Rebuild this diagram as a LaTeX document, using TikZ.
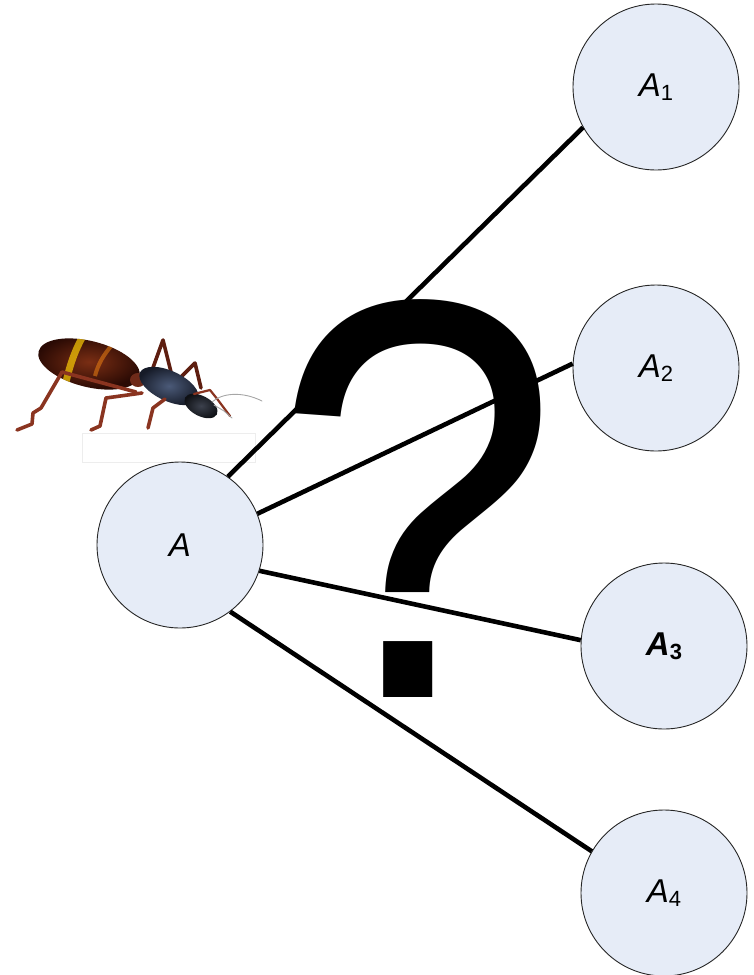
\documentclass[tikz,border=0pt]{standalone}
\usepackage{fontspec}
\setmainfont{Liberation Sans}
\definecolor{nodefill}{HTML}{E6ECF7}
\definecolor{legbrown}{HTML}{8A3420}
\definecolor{legdark}{HTML}{5E1E10}
\definecolor{gasterlight}{HTML}{7A2E14}
\definecolor{gasterdark}{HTML}{2A0A04}
\definecolor{thoraxlight}{HTML}{4B5A78}
\definecolor{thoraxdark}{HTML}{161B28}
\definecolor{headlight}{HTML}{3C414D}
\definecolor{headdark}{HTML}{0E1014}
\newcommand\idxlabel[1]{A\raisebox{-4pt}{\fontsize{22}{22}\selectfont\upshape #1}}
\begin{document}
\begin{tikzpicture}[x=1pt,y=-1pt,
  state/.style={circle, draw=black!85, line width=0.9pt, fill=nodefill,
    minimum size=166pt, inner sep=0pt, font=\fontsize{33}{33}\selectfont\itshape},
  link/.style={line width=4.6pt, black},
  leg/.style={draw=legbrown, line width=3.6pt, line cap=round, line join=round},
  antenna/.style={draw=gray!70, line width=0.9pt, line cap=round}]
\useasboundingbox (0,0) rectangle (754,975);

% faint frame under the insect
\draw[black!7, line width=0.6pt] (82,433) rectangle (255,462);

% the insect: legs behind the body
\draw[leg, draw=legdark] (150,376) -- (163,340) -- (171,372);
\draw[leg, draw=legdark] (180,378) -- (195,363) -- (201,388);

% gaster
\shade[inner color=gasterlight, outer color=gasterdark,
  rotate around={-14:(89,364)}] (89,364) ellipse [x radius=52pt, y radius=23pt];
\begin{scope}
  \clip[rotate around={-14:(89,364)}] (89,364) ellipse [x radius=52pt, y radius=23pt];
  \draw[line width=7pt, color=yellow!65!orange, opacity=0.7]
    (83,336) .. controls (74,352) and (68,370) .. (64,392);
  \draw[line width=4pt, color=orange!70!brown, opacity=0.55]
    (113,344) .. controls (104,354) and (98,364) .. (95,376);
\end{scope}
% petiole
\fill[legbrown!80!black] (138,380) ellipse [x radius=8pt, y radius=7pt];
% thorax
\shade[inner color=thoraxlight, outer color=thoraxdark,
  rotate around={-25:(169,386)}] (169,386) ellipse [x radius=32pt, y radius=15pt];
% head
\shade[inner color=headlight, outer color=headdark,
  rotate around={-28:(201,406)}] (201,406) ellipse [x radius=18pt, y radius=10pt];

% legs in front
\draw[leg] (136,392) -- (62,372) -- (41,408) -- (33,413) -- (32,424) -- (17,430);
\draw[leg] (142,393) -- (106,398) -- (100,426) -- (91,430);
\draw[leg] (165,399) -- (153,408) -- (148,428);
\draw[leg, line width=2.2pt] (194,394) -- (210,390) -- (218,400) -- (230,416);
% antennae
\draw[antenna] (212,402) .. controls (222,393) and (242,391) .. (262,401);
\draw[antenna] (214,405) -- (224,411) -- (232,418);

% question mark
\node[anchor=base west, inner sep=0pt, font=\fontsize{548}{548}\selectfont]
  (qmark) at (273,697) {\scalebox{0.94}[1.04]{?}};

% nodes
\node[state] (A)  at (180,545) {A};
\node[state] (A1) at (656,87)  {\idxlabel{1}};
\node[state] (A2) at (656,368) {\idxlabel{2}};
\node[state, font=\fontsize{33}{33}\selectfont\itshape\bfseries] (A3) at (664,646)
  {A\raisebox{-4pt}{\fontsize{22}{22}\selectfont\bfseries\upshape 3}};
\node[state] (A4) at (664,893) {\idxlabel{4}};

% connectors
\draw[link] (A.55)  -- (A1.209);
\draw[link] (A.22)  -- (A2.177);
\draw[link] (A.-18) -- (A3.176);
\draw[link] (A.-53) -- (A4.150);
\end{tikzpicture}
\end{document}
